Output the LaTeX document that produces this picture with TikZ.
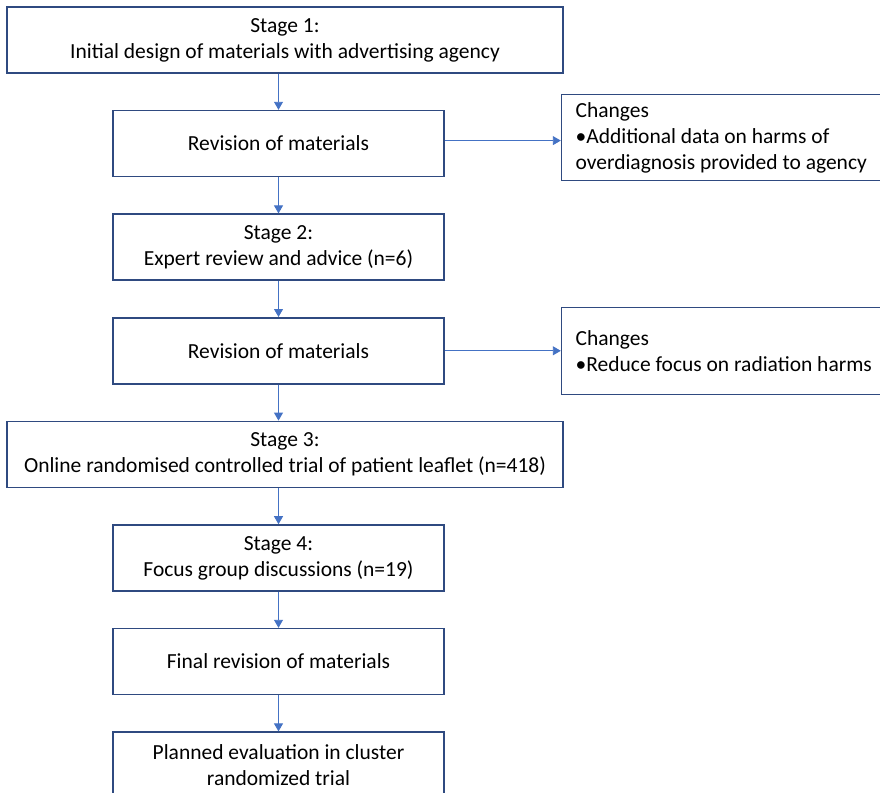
\documentclass[tikz,border=0pt]{standalone}
\usepackage{fontspec}
\setmainfont{Carlito}
\usetikzlibrary{%
  arrows.meta,%
  calc,%
  positioning% wg. " of "
}
\definecolor{boxline}{HTML}{2F4A80}
\definecolor{arrowblue}{HTML}{4472C4}

\begin{document}
\begin{tikzpicture}[
    x=1pt,y=1pt,
    >={Triangle[length=8pt,width=9pt]},
    stagebox/.style={rectangle,draw=boxline,line width=1.6pt,fill=white,
        minimum height=66pt,align=center,inner sep=2pt},
    widebox/.style={stagebox,minimum width=556pt},
    smallbox/.style={stagebox,minimum width=331pt},
    changebox/.style={rectangle,draw=boxline,line width=1.6pt,fill=white,
        align=flush left,text width=310pt,inner xsep=14pt,inner ysep=4pt},
    link/.style={->,draw=arrowblue,fill=arrowblue,line width=0.9pt},
    node distance=36pt
  ]
    \clip (0,0) rectangle (880,-792);
    \fontsize{21.5}{26}\selectfont

    \node (stage1)  [widebox] at (285,-40)
        {Stage 1:\\Initial design of materials with advertising agency};
    \node (rev1)    [smallbox,below=of stage1,xshift=-6.5pt] {Revision of materials};
    \node (stage2)  [smallbox,below=of rev1]
        {Stage 2:\\Expert review and advice (n=6)};
    \node (rev2)    [smallbox,below=of stage2] {Revision of materials};
    \node (stage3)  [widebox,below=of rev2,xshift=6.5pt]
        {Stage 3:\\Online randomised controlled trial of patient leaflet (n=418)};
    \node (stage4)  [smallbox,below=of stage3,xshift=-6.5pt]
        {Stage 4:\\Focus group discussions (n=19)};
    \node (final)   [smallbox,below=of stage4] {Final revision of materials};
    \node (planned) [smallbox,below=of final]
        {Planned evaluation in cluster\\randomized trial};

    \node (chg1) [changebox,minimum height=86pt,right=116pt of rev1,yshift=6pt]
        {Changes\\\textbullet Additional data on harms of\\overdiagnosis provided to agency};
    \node (chg2) [changebox,minimum height=87pt,right=116pt of rev2]
        {Changes\\\textbullet Reduce focus on radiation harms};

    % connectors
    \draw[link] (stage1.south -| rev1) -- (rev1);
    \draw[link] (rev1) -- (stage2);
    \draw[link] (stage2) -- (rev2);
    \draw[link] (rev2) -- (rev2 |- stage3.north);
    \draw[link] (stage3.south -| stage4) -- (stage4);
    \draw[link] (stage4) -- (final);
    \draw[link] (final) -- (planned);
    \draw[link] ([yshift=3pt]rev1.east) -- ([yshift=3pt]rev1.east -| chg1.west);
    \draw[link] (rev2) -- (rev2 -| chg2.west);
\end{tikzpicture}
\end{document}
